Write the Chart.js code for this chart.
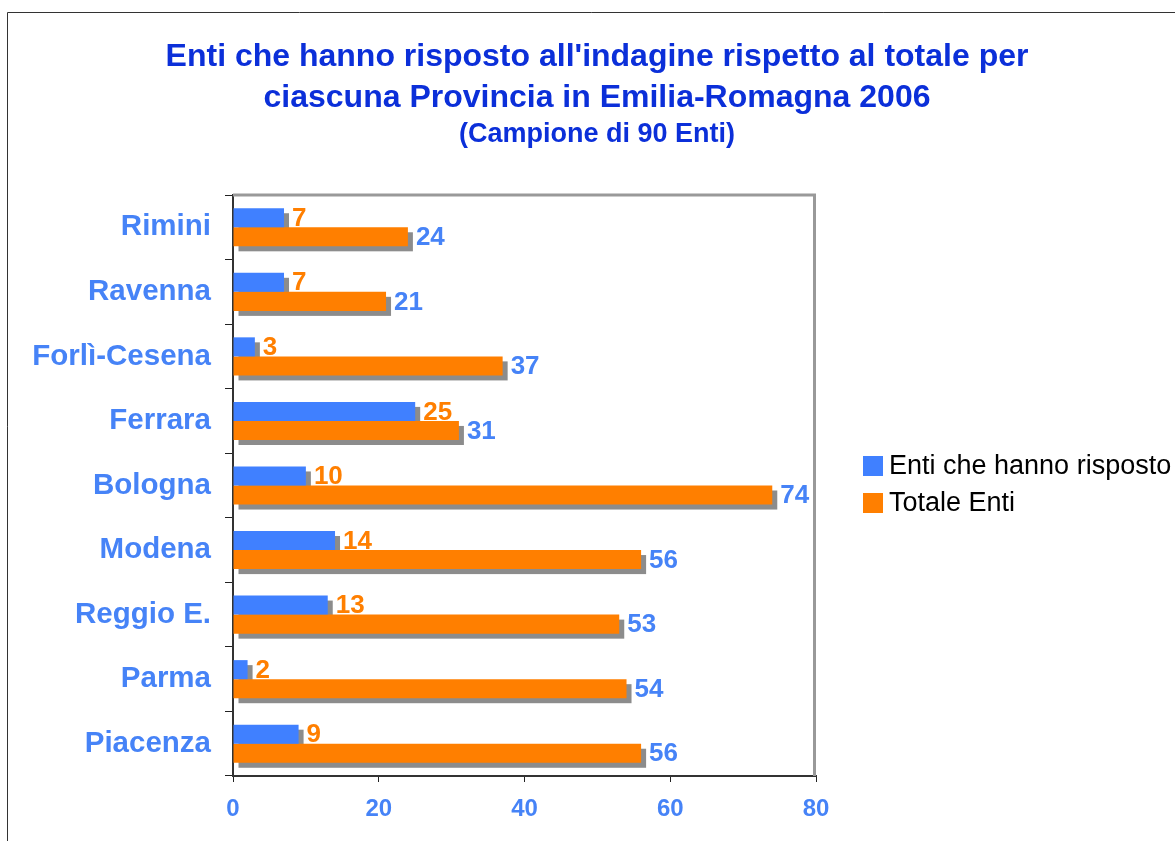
<!DOCTYPE html>
<html>
<head>
<meta charset="utf-8">
<script src="https://cdn.jsdelivr.net/npm/chart.js@4.4.1/dist/chart.umd.min.js"></script>
<style>
  html, body { margin: 0; padding: 0; background: #fff; }
  #wrap { width: 1175px; height: 841px; }
</style>
</head>
<body>
<div id="wrap"><canvas id="chart" width="1175" height="841"></canvas></div>
<script>
// data
const provinces = ['Rimini', 'Ravenna', 'Forlì-Cesena', 'Ferrara', 'Bologna', 'Modena', 'Reggio E.', 'Parma', 'Piacenza'];
const responded = [7, 7, 3, 25, 10, 14, 13, 2, 9];
const totals = [24, 21, 37, 31, 74, 56, 53, 54, 56];
const seriesNames = ['Enti che hanno risposto', 'Totale Enti'];
const titleLines = ["Enti che hanno risposto all'indagine rispetto al totale per", 'ciascuna Provincia in Emilia-Romagna 2006'];
const subtitle = '(Campione di 90 Enti)';
const xMin = 0, xMax = 80, xStep = 20;

const BLUE = '#4080ff';
const ORANGE = '#ff7f00';
const LABEL_BLUE = '#4683f7';
const TITLE_BLUE = '#0b2fd9';
const FONT = '"Liberation Sans", Arial, sans-serif';

const decorations = {
    id: 'decorations',
    beforeDraw(chart) {
        const ctx = chart.ctx;
        ctx.save();
        ctx.fillStyle = '#fff';
        ctx.fillRect(0, 0, chart.width, chart.height);
        // outer frame
        ctx.strokeStyle = '#333';
        ctx.lineWidth = 1;
        ctx.beginPath();
        ctx.moveTo(7.5, chart.height);
        ctx.lineTo(7.5, 12.5);
        ctx.lineTo(chart.width, 12.5);
        ctx.stroke();
        // titles
        ctx.fillStyle = TITLE_BLUE;
        ctx.textAlign = 'center';
        ctx.textBaseline = 'alphabetic';
        ctx.font = 'bold 32px ' + FONT;
        ctx.fillText(titleLines[0], 597, 66);
        ctx.fillText(titleLines[1], 597, 107);
        ctx.font = 'bold 27px ' + FONT;
        ctx.fillText(subtitle, 597, 142);
        ctx.restore();
    },
    beforeDatasetsDraw(chart) {
        const ctx = chart.ctx;
        const a = chart.chartArea;
        ctx.save();
        // gray top / right border of plot area
        ctx.strokeStyle = '#999';
        ctx.lineWidth = 3;
        ctx.beginPath();
        ctx.moveTo(a.left, a.top);
        ctx.lineTo(a.right - 1.5, a.top);
        ctx.lineTo(a.right - 1.5, a.bottom);
        ctx.stroke();
        // bar shadows
        ctx.fillStyle = '#8c8c8c';
        chart.data.datasets.forEach((ds, i) => {
            chart.getDatasetMeta(i).data.forEach(bar => {
                const p = bar.getProps(['x', 'y', 'base', 'height'], true);
                ctx.fillRect(p.base + 5, p.y - p.height / 2 + 5, p.x - p.base, p.height);
            });
        });
        ctx.restore();
    },
    afterDatasetsDraw(chart) {
        const ctx = chart.ctx;
        ctx.save();
        ctx.font = 'bold 26px ' + FONT;
        ctx.textAlign = 'left';
        ctx.textBaseline = 'middle';
        const valueColors = [ORANGE, LABEL_BLUE];
        chart.data.datasets.forEach((ds, i) => {
            ctx.fillStyle = valueColors[i];
            chart.getDatasetMeta(i).data.forEach((bar, j) => {
                ctx.fillText(String(ds.data[j]), bar.x + 8, bar.y + 1);
            });
        });
        // legend
        ctx.font = '27px ' + FONT;
        chart.data.datasets.forEach((ds, i) => {
            const y = 466 + i * 37;
            ctx.fillStyle = ds.backgroundColor;
            ctx.fillRect(863, y - 10, 20, 20);
            ctx.fillStyle = '#000';
            ctx.fillText(ds.label, 889, y + 1);
        });
        ctx.restore();
    }
};

new Chart(document.getElementById('chart'), {
    type: 'bar',
    data: {
        labels: provinces,
        datasets: [
            { label: seriesNames[0], data: responded, backgroundColor: BLUE },
            { label: seriesNames[1], data: totals, backgroundColor: ORANGE }
        ]
    },
    options: {
        indexAxis: 'y',
        responsive: false,
        animation: false,
        categoryPercentage: 0.59,
        barPercentage: 1.0,
        layout: { padding: { top: 195, right: 359, bottom: 0, left: 0 } },
        plugins: { legend: { display: false }, title: { display: false }, tooltip: { enabled: false } },
        scales: {
            x: {
                min: xMin, max: xMax,
                ticks: { stepSize: xStep, color: LABEL_BLUE, font: { family: FONT, size: 24, weight: 'bold' }, padding: 13 },
                grid: { drawOnChartArea: false, tickLength: 6, color: '#222', lineWidth: 1 },
                border: { color: '#333', width: 2 },
                afterFit(scale) { scale.height = 65; }
            },
            y: {
                ticks: { color: LABEL_BLUE, font: { family: FONT, size: 29.5, weight: 'bold' }, padding: 14 },
                grid: { drawOnChartArea: false, tickLength: 8, color: '#222', lineWidth: 1 },
                border: { color: '#333', width: 2 },
                afterFit(scale) { scale.width = 233; }
            }
        }
    },
    plugins: [decorations]
});
</script>
</body>
</html>
